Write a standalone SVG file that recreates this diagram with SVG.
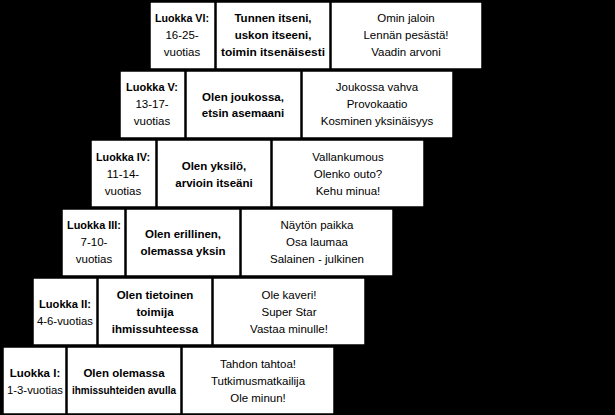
<svg xmlns="http://www.w3.org/2000/svg" width="615" height="415" viewBox="0 0 615 415">
<style>
rect{fill:#fff;stroke:#000;stroke-width:1.5}
text{font-family:"Liberation Sans",Arial,sans-serif;font-size:11.5px;fill:#000;text-anchor:middle}
.b{font-weight:bold}
</style>
<rect x="0" y="0" width="615" height="415" style="fill:#000;stroke:none"/>
<g id="row6">
<rect x="150" y="2" width="65" height="67"/><rect x="216" y="2" width="114" height="67"/><rect x="331" y="2" width="151" height="67"/>
<text x="182" y="22" class="b" textLength="54" lengthAdjust="spacingAndGlyphs">Luokka VI:</text><text x="182" y="39">16-25-</text><text x="182" y="56">vuotias</text>
<text x="273" y="22" class="b">Tunnen itseni,</text><text x="273" y="39" class="b">uskon itseeni,</text><text x="273" y="56" class="b" textLength="104" lengthAdjust="spacingAndGlyphs">toimin itsenäisesti</text>
<text x="406" y="22">Omin jaloin</text><text x="406" y="39">Lennän pesästä!</text><text x="406" y="56">Vaadin arvoni</text>
</g>
<g id="row5">
<rect x="120" y="71" width="65" height="67"/><rect x="186" y="71" width="115" height="67"/><rect x="302" y="71" width="151" height="67"/>
<text x="152" y="91" class="b" textLength="52" lengthAdjust="spacingAndGlyphs">Luokka V:</text><text x="152" y="108">13-17-</text><text x="152" y="125">vuotias</text>
<text x="243" y="101" class="b">Olen joukossa,</text><text x="243" y="117" class="b">etsin asemaani</text>
<text x="377" y="91">Joukossa vahva</text><text x="377" y="108">Provokaatio</text><text x="377" y="125">Kosminen yksinäisyys</text>
</g>
<g id="row4">
<rect x="91" y="140" width="65" height="67"/><rect x="157" y="140" width="114" height="67"/><rect x="272" y="140" width="152" height="67"/>
<text x="123" y="161" class="b" textLength="54" lengthAdjust="spacingAndGlyphs">Luokka IV:</text><text x="123" y="178">11-14-</text><text x="123" y="195">vuotias</text>
<text x="214" y="170" class="b">Olen yksilö,</text><text x="214" y="187" class="b">arvioin itseäni</text>
<text x="348" y="161">Vallankumous</text><text x="348" y="178">Olenko outo?</text><text x="348" y="195">Kehu minua!</text>
</g>
<g id="row3">
<rect x="62" y="209" width="63" height="67"/><rect x="126" y="209" width="114" height="67"/><rect x="241" y="209" width="152" height="67"/>
<text x="94" y="229" class="b" textLength="54" lengthAdjust="spacingAndGlyphs">Luokka III:</text><text x="94" y="246">7-10-</text><text x="94" y="263">vuotias</text>
<text x="183" y="238" class="b">Olen erillinen,</text><text x="183" y="255" class="b">olemassa yksin</text>
<text x="317" y="229">Näytön paikka</text><text x="317" y="246">Osa laumaa</text><text x="317" y="263">Salainen - julkinen</text>
</g>
<g id="row2">
<rect x="33" y="278" width="64" height="67"/><rect x="98" y="278" width="114" height="67"/><rect x="213" y="278" width="152" height="67"/>
<text x="65" y="308" class="b" textLength="52" lengthAdjust="spacingAndGlyphs">Luokka II:</text><text x="65" y="325" textLength="56" lengthAdjust="spacingAndGlyphs">4-6-vuotias</text>
<text x="155" y="299" class="b">Olen tietoinen</text><text x="155" y="316" class="b">toimija</text><text x="155" y="333" class="b">ihmissuhteessa</text>
<text x="289" y="299">Ole kaveri!</text><text x="289" y="316">Super Star</text><text x="289" y="333">Vastaa minulle!</text>
</g>
<g id="row1">
<rect x="3" y="347" width="63" height="67"/><rect x="67" y="347" width="114" height="67"/><rect x="182" y="347" width="152" height="67"/>
<text x="35" y="377" class="b">Luokka I:</text><text x="35" y="394" textLength="56" lengthAdjust="spacingAndGlyphs">1-3-vuotias</text>
<text x="124" y="377" class="b">Olen olemassa</text><text x="124" y="394" class="b" textLength="104" lengthAdjust="spacingAndGlyphs">ihmissuhteiden avulla</text>
<text x="258" y="368">Tahdon tahtoa!</text><text x="258" y="385">Tutkimusmatkailija</text><text x="258" y="402">Ole minun!</text>
</g>
<g id="connectors"/>
</svg>
